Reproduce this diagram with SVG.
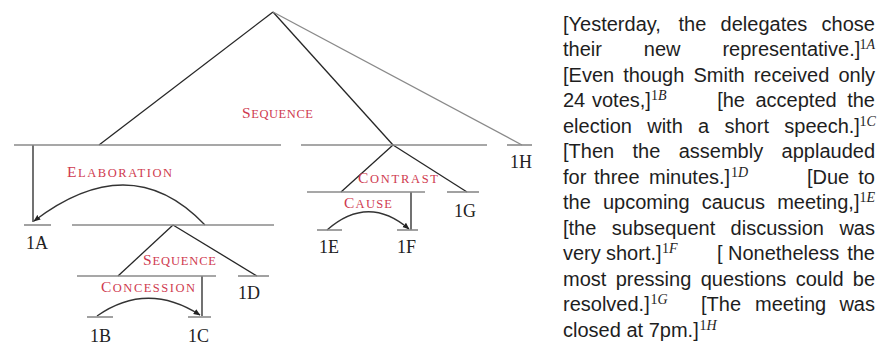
<svg xmlns="http://www.w3.org/2000/svg" width="880" height="347" viewBox="0 0 880 347">
<style>
.bg{fill:#ffffff}
.span{stroke:#8a8a8a;stroke-width:1.6;fill:none}
.leg{stroke:#262626;stroke-width:1.3;fill:none}
.legl{stroke:#8a8a8a;stroke-width:1.3;fill:none}
.arc{stroke:#333;stroke-width:1.3;fill:none;marker-end:url(#arr)}
.leaf{font-family:"Liberation Serif","Times New Roman",serif;font-size:18px;fill:#222}
.rel{font-family:"Liberation Serif","Times New Roman",serif;font-size:15.5px;fill:#cf3a4f}
.sc{font-size:12.5px}
.p{font-family:"Liberation Sans",Arial,sans-serif;font-size:20px;fill:#1e1e1e}
.sup{font-family:"Liberation Serif","Times New Roman",serif;font-size:14px}
.it{font-style:italic}
</style>
<defs>
<marker id="arr" viewBox="0 0 10 10" refX="9" refY="5" markerWidth="7" markerHeight="7" orient="auto" markerUnits="userSpaceOnUse">
<path d="M0,1 L10,5 L0,9 Z" fill="#222"/>
</marker>
</defs>
<rect class="bg" x="0" y="0" width="880" height="347"/>

<g id="connectors">
<line class="leg" x1="273" y1="12" x2="99" y2="145"/>
<line class="leg" x1="273" y1="12" x2="393" y2="145"/>
<line class="legl" x1="273" y1="12" x2="522" y2="145"/>
<line class="leg" x1="33" y1="145" x2="33" y2="222"/>
<path class="arc" d="M205,225 Q131,147 34,221"/>
<line class="leg" x1="173" y1="225" x2="118" y2="276"/>
<line class="leg" x1="173" y1="225" x2="257" y2="276"/>
<line class="leg" x1="202" y1="276" x2="202" y2="316"/>
<path class="arc" d="M97,316 Q147,281 200,315"/>
<line class="leg" x1="393" y1="145" x2="341" y2="192"/>
<line class="leg" x1="393" y1="145" x2="467" y2="192"/>
<line class="leg" x1="411" y1="192" x2="411" y2="230"/>
<path class="arc" d="M327,230 Q368,194 409,229"/>
</g>

<g id="root-sequence">
<text class="rel" x="242" y="118" textLength="71" lengthAdjust="spacing">S<tspan class="sc">EQUENCE</tspan></text>
</g>
<g id="span-1A-1D"><line class="span" x1="14" y1="145" x2="281" y2="145"/></g>
<g id="span-1E-1G"><line class="span" x1="301" y1="145" x2="487" y2="145"/></g>
<g id="leaf-1H"><line class="span" x1="507" y1="145" x2="532" y2="145"/><text class="leaf" x="510" y="168">1H</text></g>

<g id="elaboration">
<text class="rel" x="67" y="177" textLength="105" lengthAdjust="spacing">E<tspan class="sc">LABORATION</tspan></text>
</g>
<g id="leaf-1A"><line class="span" x1="24" y1="225" x2="51" y2="225"/><text class="leaf" x="26" y="249">1A</text></g>
<g id="span-1B-1D"><line class="span" x1="72" y1="225" x2="274" y2="225"/></g>

<g id="inner-sequence">
<text class="rel" x="143" y="265" textLength="73" lengthAdjust="spacing">S<tspan class="sc">EQUENCE</tspan></text>
</g>
<g id="span-1B-1C"><line class="span" x1="77" y1="276" x2="216" y2="276"/></g>
<g id="leaf-1D"><line class="span" x1="238" y1="276" x2="269" y2="276"/><text class="leaf" x="238" y="299">1D</text></g>

<g id="concession">
<text class="rel" x="101" y="292" textLength="94" lengthAdjust="spacing">C<tspan class="sc">ONCESSION</tspan></text>
</g>
<g id="leaf-1B"><line class="span" x1="87" y1="317" x2="113" y2="317"/><text class="leaf" x="90" y="342">1B</text></g>
<g id="leaf-1C"><line class="span" x1="188" y1="317" x2="211" y2="317"/><text class="leaf" x="188" y="342">1C</text></g>

<g id="contrast">
<text class="rel" x="358" y="183" textLength="80" lengthAdjust="spacing">C<tspan class="sc">ONTRAST</tspan></text>
</g>
<g id="span-1E-1F"><line class="span" x1="307" y1="192" x2="425" y2="192"/></g>
<g id="leaf-1G"><line class="span" x1="447" y1="192" x2="479" y2="192"/><text class="leaf" x="454" y="217">1G</text></g>

<g id="cause">
<text class="rel" x="344" y="208" textLength="48" lengthAdjust="spacing">C<tspan class="sc">AUSE</tspan></text>
</g>
<g id="leaf-1E"><line class="span" x1="317" y1="230" x2="342" y2="230"/><text class="leaf" x="319" y="253">1E</text></g>
<g id="leaf-1F"><line class="span" x1="397" y1="230" x2="418" y2="230"/><text class="leaf" x="397" y="253">1F</text></g>

<g id="paragraph" class="p">
<text y="30.5"><tspan x="563">[Yesterday,</tspan><tspan x="678.5">the</tspan><tspan x="720.6">delegates</tspan><tspan x="821.6">chose</tspan></text>
<text y="56"><tspan x="563">their</tspan><tspan x="643.8">new</tspan><tspan x="722.4">representative.]</tspan><tspan class="sup" x="859.4" y="49">1<tspan class="it">A</tspan></tspan></text>
<text y="81.5"><tspan x="563">[Even</tspan><tspan x="623.2">though</tspan><tspan x="693.5">Smith</tspan><tspan x="753.7">received</tspan><tspan x="838.4">only</tspan></text>
<text y="107.1"><tspan x="563">24</tspan><tspan x="592">votes,]</tspan><tspan class="sup" x="651" y="100.1">1<tspan class="it">B</tspan></tspan><tspan x="717.2" y="107.1">[he</tspan><tspan x="755.5">accepted</tspan><tspan x="847.2">the</tspan></text>
<text y="132.6"><tspan x="563">election</tspan><tspan x="647.2">with</tspan><tspan x="698.1">a</tspan><tspan x="724.5">short</tspan><tspan x="784.3">speech.]</tspan><tspan class="sup" x="859.5" y="125.6">1<tspan class="it">C</tspan></tspan></text>
<text y="158.1"><tspan x="563">[Then</tspan><tspan x="632.5">the</tspan><tspan x="678.7">assembly</tspan><tspan x="781.6">applauded</tspan></text>
<text y="183.6"><tspan x="563">for</tspan><tspan x="594">three</tspan><tspan x="649">minutes.]</tspan><tspan class="sup" x="731" y="176.6">1<tspan class="it">D</tspan></tspan><tspan x="807" y="183.6">[Due</tspan><tspan x="858.3">to</tspan></text>
<text y="209.1"><tspan x="563">the</tspan><tspan x="602.9">upcoming</tspan><tspan x="701.7">caucus</tspan><tspan x="777.2">meeting,]</tspan><tspan class="sup" x="859.5" y="202.1">1<tspan class="it">E</tspan></tspan></text>
<text y="234.7"><tspan x="563">[the</tspan><tspan x="611.8">subsequent</tspan><tspan x="730.6">discussion</tspan><tspan x="839.4">was</tspan></text>
<text y="260.2"><tspan x="563">very</tspan><tspan x="606">short.]</tspan><tspan class="sup" x="662" y="253.2">1<tspan class="it">F</tspan></tspan><tspan x="717" y="260.2">[</tspan><tspan x="728">Nonetheless</tspan><tspan x="847.2">the</tspan></text>
<text y="285.7"><tspan x="563">most</tspan><tspan x="615.7">pressing</tspan><tspan x="700.7">questions</tspan><tspan x="795.7">could</tspan><tspan x="852.8">be</tspan></text>
<text y="311.2"><tspan x="563">resolved.]</tspan><tspan class="sup" x="650.5" y="304.2">1<tspan class="it">G</tspan></tspan><tspan x="701" y="311.2">[The</tspan><tspan x="755">meeting</tspan><tspan x="839.4">was</tspan></text>
<text y="336.7"><tspan x="563">closed</tspan><tspan x="626.4">at</tspan><tspan x="648.7">7pm.]</tspan><tspan class="sup" x="699.5" y="329.7">1<tspan class="it">H</tspan></tspan></text>
</g>
</svg>
